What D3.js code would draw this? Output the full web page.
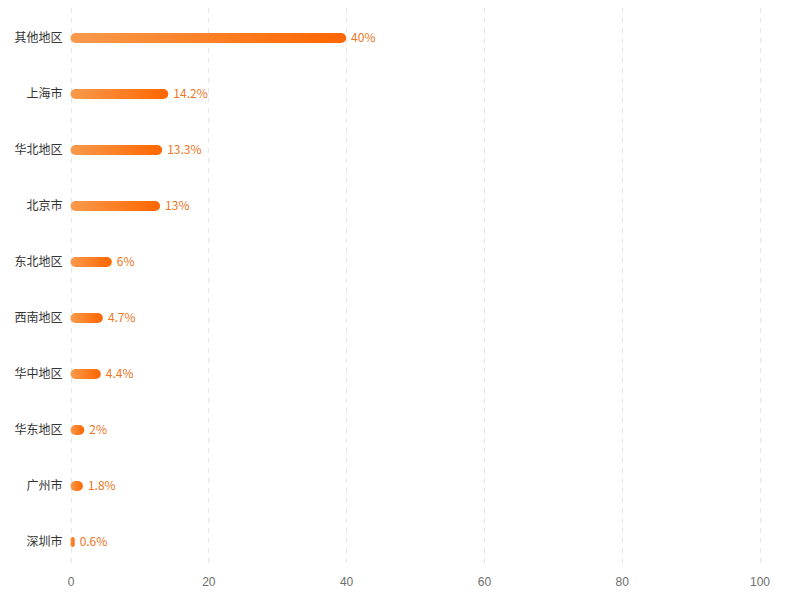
<!DOCTYPE html>
<html><head><meta charset="utf-8">
<script src="https://cdn.jsdelivr.net/npm/d3@7"></script>
<style>body{margin:0;background:#fff;}svg{display:block;font-family:"Noto Sans CJK SC","Noto Sans",sans-serif;}</style>
</head><body>
<svg id="c" width="790" height="611"></svg>
<script>
const categories = ["其他地区","上海市","华北地区","北京市","东北地区","西南地区","华中地区","华东地区","广州市","深圳市"];
const values = [40, 14.2, 13.3, 13, 6, 4.7, 4.4, 2, 1.8, 0.6];
const xTicks = [0, 20, 40, 60, 80, 100];

(function(){
const svg = d3.select("#c");
const mLeft = 70.5, mRight = 759.5, mTop = 10, mBottom = 570;
const x = d3.scaleLinear().domain([0, 100]).range([mLeft, mRight]);
const y = d3.scaleBand().domain(categories).range([mTop, mBottom]);

const defs = svg.append("defs");
const g = defs.append("linearGradient").attr("id","grad").attr("x1","0").attr("y1","0").attr("x2","1").attr("y2","0");
g.append("stop").attr("offset","0").attr("stop-color","#fa9a4c");
g.append("stop").attr("offset","1").attr("stop-color","#ff6600");

// grid
svg.append("g").selectAll("line").data(xTicks).join("line")
  .attr("x1", d => Math.round(x(d)) + 0.5).attr("x2", d => Math.round(x(d)) + 0.5)
  .attr("y1", 8).attr("y2", 567)
  .attr("stroke", "#e6e6e6").attr("stroke-dasharray", "5,5");

// x axis labels
const xAxis = d3.axisBottom(x).tickValues(xTicks).tickSize(0).tickPadding(0);
const xa = svg.append("g").attr("transform", `translate(0,${577})`).call(xAxis);
xa.select(".domain").remove();
xa.selectAll("text").attr("fill","#6e6e6e").attr("font-size",12).attr("dy","0.71em");

// y axis labels
const yAxis = d3.axisLeft(y).tickSize(0).tickPadding(8);
const ya = svg.append("g").attr("transform", `translate(${mLeft},0)`).call(yAxis);
ya.select(".domain").remove();
ya.selectAll("text").attr("fill","#333").attr("font-size",12).attr("font-family",'"Noto Sans CJK SC",sans-serif');

const bh = 10;
const rows = svg.append("g").selectAll("g").data(categories.map((c,i)=>({c, v: values[i]}))).join("g");
rows.append("rect")
  .attr("x", x(0))
  .attr("y", d => y(d.c) + y.bandwidth()/2 - bh/2)
  .attr("width", d => Math.max(4, x(d.v) - x(0)))
  .attr("height", bh)
  .attr("rx", d => Math.min(5, Math.max(4, x(d.v) - x(0))/2))
  .attr("fill", "url(#grad)");
rows.append("text")
  .attr("x", d => x(0) + Math.max(4, x(d.v) - x(0)) + 5)
  .attr("y", d => y(d.c) + y.bandwidth()/2)
  .attr("dy", "0.35em")
  .attr("fill", "#ef7424")
  .attr("font-size", 12)
  .text(d => d.v + "%");
})();
</script>
</body></html>
